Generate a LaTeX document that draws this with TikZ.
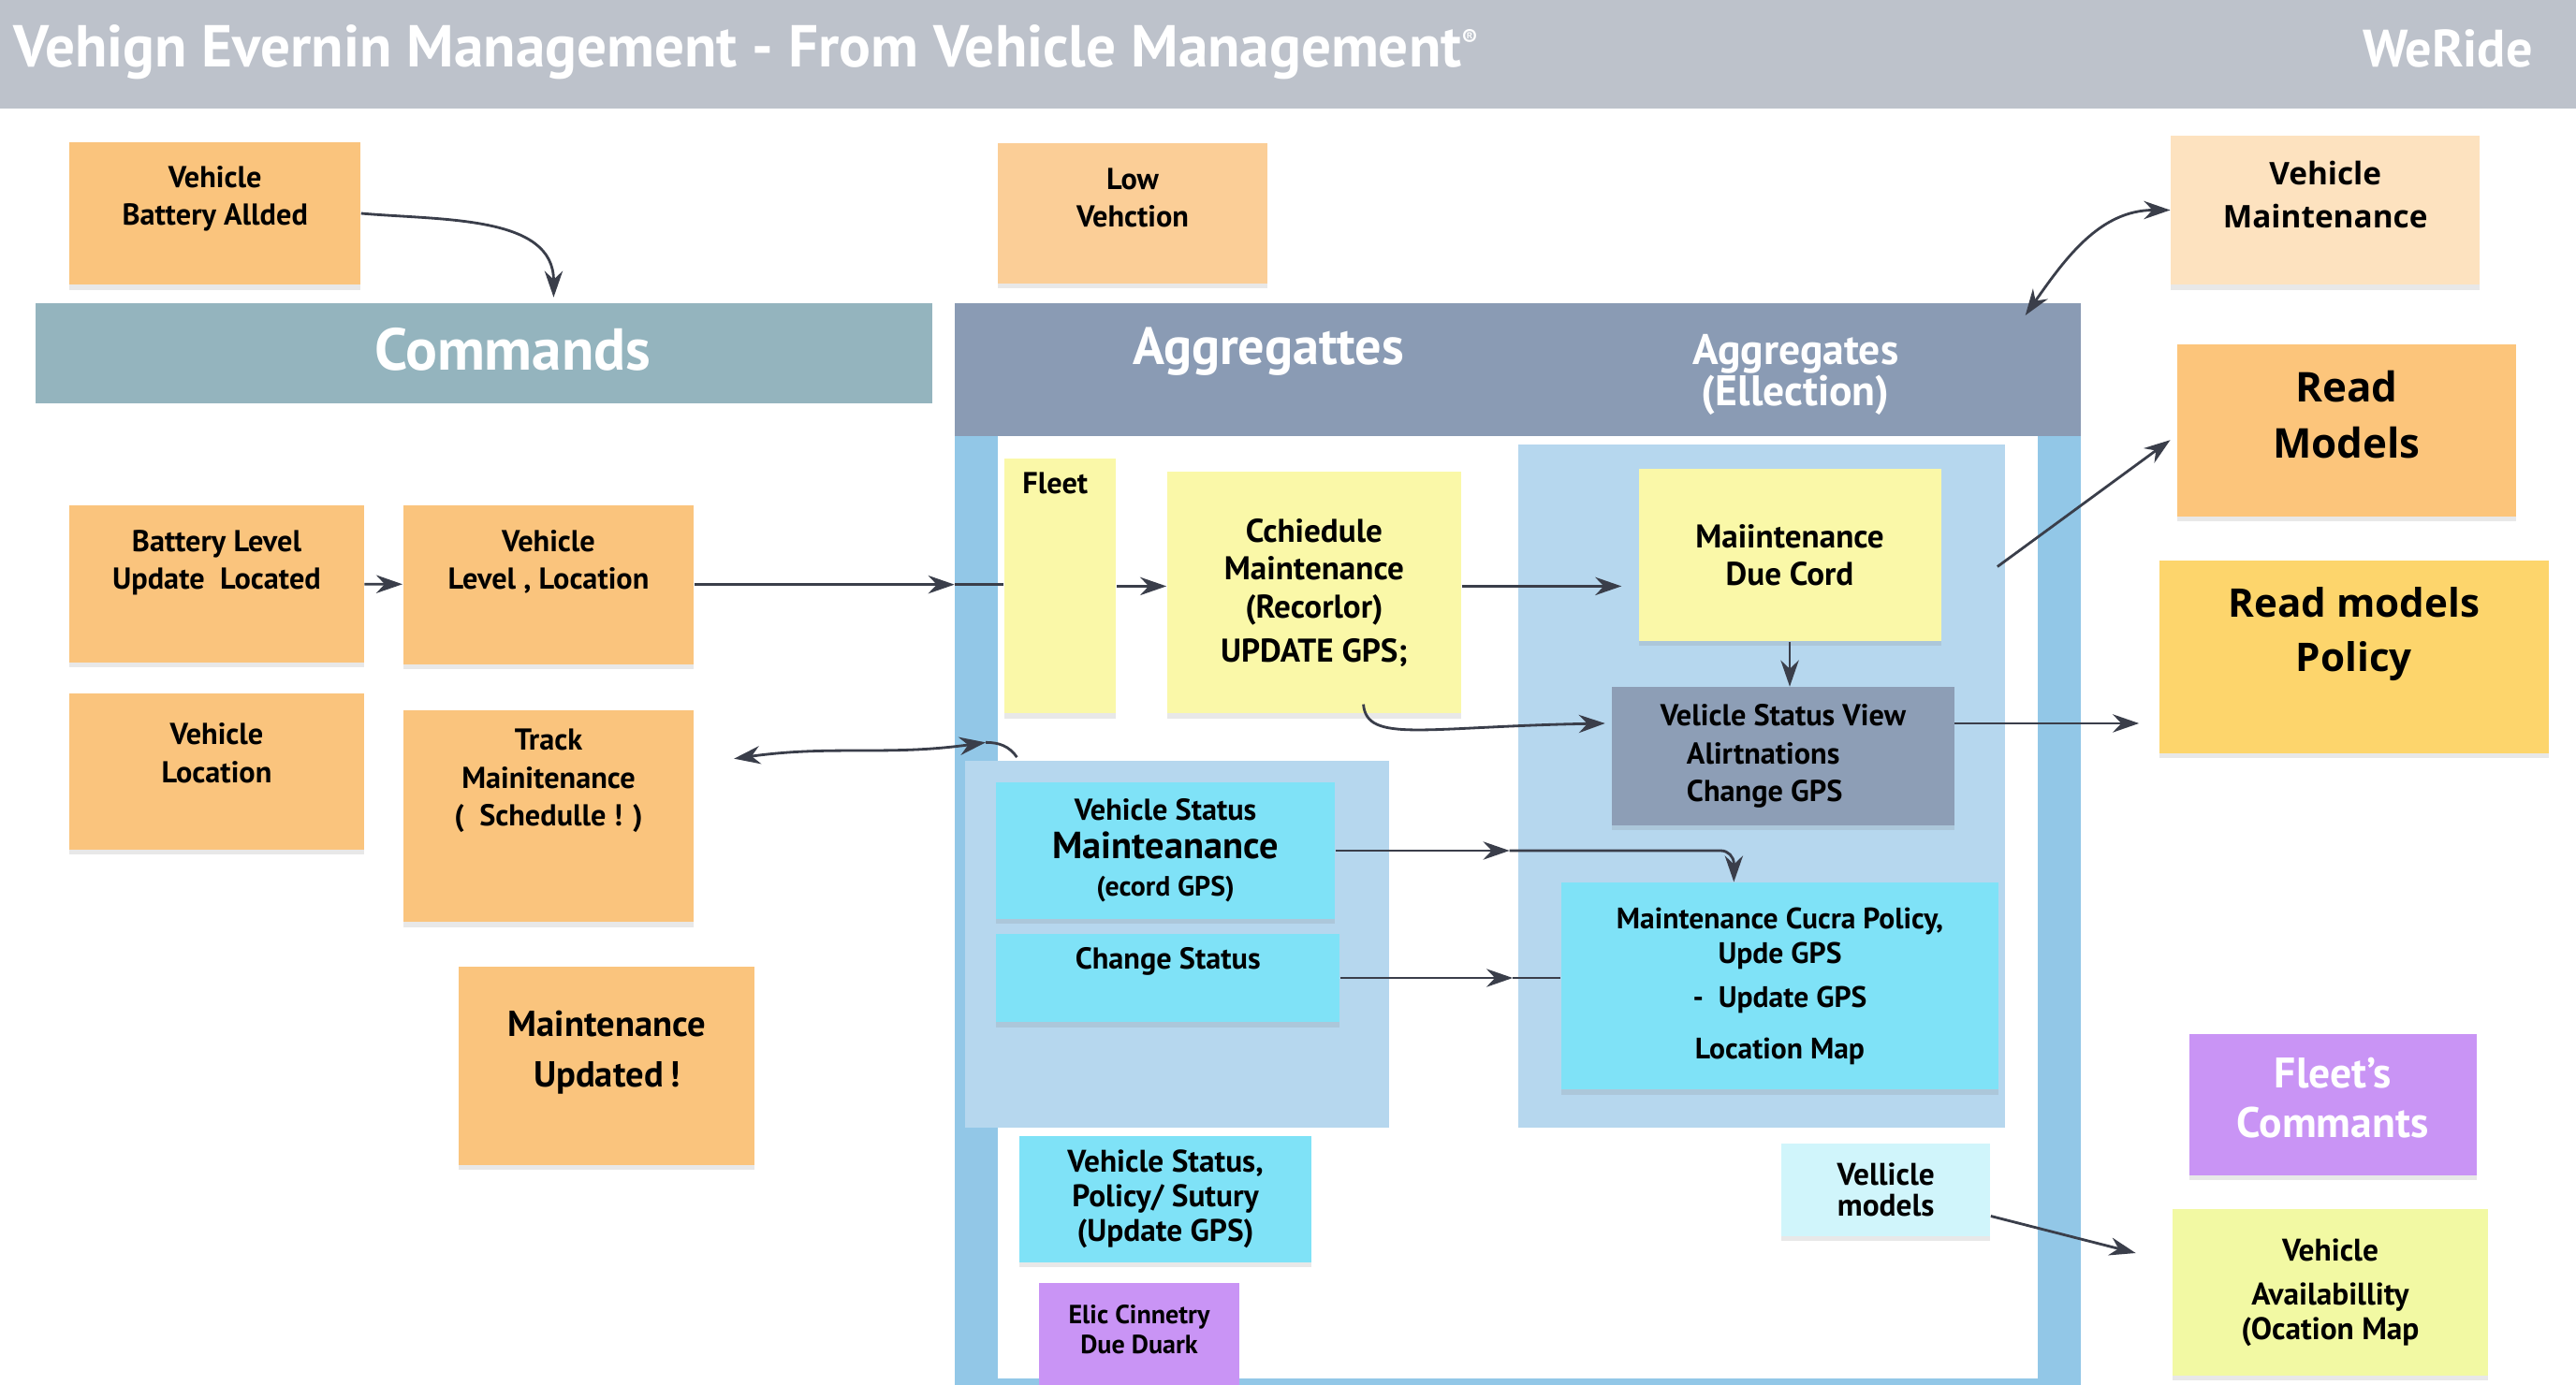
\documentclass[tikz,border=0pt]{standalone}
\usepackage{fontspec}
\setmainfont{PT Sans}
\newfontfamily\widefont{Open Sans}
\usetikzlibrary{arrows.meta,shadows}

\definecolor{headc}{HTML}{BDC2CB}
\definecolor{cmdc}{HTML}{94B4BE}
\definecolor{aggc}{HTML}{8A9BB4}
\definecolor{framec}{HTML}{92C7E7}
\definecolor{panelc}{HTML}{B6D7EE}
\definecolor{orangec}{HTML}{FAC47D}
\definecolor{lowc}{HTML}{FBCE97}
\definecolor{paleorc}{HTML}{FDE2BF}
\definecolor{readmc}{HTML}{FCC57B}
\definecolor{goldc}{HTML}{FDD56C}
\definecolor{yelc}{HTML}{FAF8A8}
\definecolor{greyc}{HTML}{8D9EB6}
\definecolor{cyanc}{HTML}{7FE2F7}
\definecolor{lcyanc}{HTML}{D0F5FB}
\definecolor{purpc}{HTML}{C994F5}
\definecolor{ygc}{HTML}{F2F9A3}
\definecolor{arrowc}{HTML}{3A3E4A}

\begin{document}
\begin{tikzpicture}[x=0.5pt,y=-0.5pt,
  band/.style={anchor=north west, inner sep=0pt},
  note/.style={band, drop shadow={opacity=0.18, shadow xshift=0pt, shadow yshift=-1.5pt}},
  sz/.style 2 args={minimum width=#1*0.5pt, minimum height=#2*0.5pt},
  txt/.style={align=center, inner sep=0pt, font=\bfseries\fontsize{9.2}{11.5}\selectfont},
  bartxt/.style={text=white, inner sep=0pt, font=\bfseries\fontsize{18}{18}\selectfont},
  arr/.style={draw=arrowc, line width=0.8pt, -{Stealth[length=8pt,width=5.5pt]}},
  darr/.style={arr, {Stealth[length=8pt,width=5.5pt]}-{Stealth[length=8pt,width=5.5pt]}},
  wire/.style={draw=arrowc, line width=0.8pt}]

\useasboundingbox (0,0) rectangle (1568,843);
\fill[white] (0,0) rectangle (1568,843);

% Header
\fill[headc] (0,0) rectangle (1568,66);
\node[anchor=base west, inner sep=0pt, text=white, font=\bfseries\fontsize{18}{18}\selectfont] (title) at (8,41) {Vehign Evernin Management - From Vehicle Management\textsuperscript{\fontsize{7}{7}\selectfont ®}};
\node[anchor=base east, inner sep=0pt, text=white, font=\bfseries\fontsize{16}{16}\selectfont] (logo) at (1542,41) {WeRide};

% Bands and frame
\node[band, fill=cmdc, sz={546}{61}] (cmdbar) at (21,184) {};
\node[bartxt] (cmdtxt) at (312,213) {Commands};
\node[band, fill=framec, sz={685}{578}] (aggframe) at (581,265) {};
\node[band, fill=white, sz={633}{574}] (agginner) at (607,265) {};
\node[band, fill=aggc, sz={685}{81}] (aggbar) at (581,184) {};
\node[bartxt, font=\bfseries\fontsize{16}{16}\selectfont] (aggtxt) at (772,214) {Aggregattes};
\node[bartxt, align=center, font=\bfseries\fontsize{13}{12.5}\selectfont] (electxt) at (1093,228) {Aggregates\\(Ellection)};
\node[band, fill=panelc, sz={258}{223}] (lpanel) at (587,463) {};
\node[band, fill=panelc, sz={296}{416}] (rpanel) at (924,270) {};

% Orange notes
\node[note, fill=orangec, sz={177}{87}] (vbat) at (42,86) {};
\node[txt] (vbatt) at ([yshift=4.5pt]vbat.center) {Vehicle\\Battery Allded};
\node[note, fill=lowc, sz={164}{85}] (lowv) at (607,87) {};
\node[txt] (lowvt) at ([yshift=4.75pt]lowv.center) {Low\\Vehction};
\node[note, fill=orangec, sz={179}{96}] (bll) at (42,307) {};
\node[txt] (bllt) at ([yshift=6.5pt]bll.center) {Battery Level\\Update~ Located};
\node[note, fill=orangec, sz={177}{97}] (vll) at (245,307) {};
\node[txt] (vllt) at ([yshift=7pt]vll.center) {Vehicle\\Level , Location};
\node[note, fill=orangec, sz={179}{95}] (vloc) at (42,422) {};
\node[txt] (vloct) at ([yshift=5.75pt]vloc.center) {Vehicle\\Location};
\node[note, fill=orangec, sz={177}{129}] (track) at (245,432) {};
\node[txt] (trackt) at ([yshift=10.75pt]track.center) {Track\\Mainitenance\\(~ Schedulle ! )};
\node[note, fill=orangec, sz={180}{121}] (mupd) at (279,588) {};
\node[txt, font=\bfseries\fontsize{11}{15.5}\selectfont] (mupdt) at ([yshift=4pt]mupd.center) {Maintenance\\Updated\,!};

% Aggregate notes
\node[note, fill=yelc, sz={68}{155}] (fleet) at (611,279) {};
\node[txt, anchor=north west] (fleett) at ([xshift=5.5pt,yshift=-4pt]fleet.north west) {Fleet};
\node[note, txt, fill=yelc, sz={179}{147}, font=\bfseries\fontsize{10}{11.5}\selectfont] (sched) at (710,287) {Cchiedule\\Maintenance\\(Recorlor)\\[2pt]UPDATE GPS;};
\node[note, txt, fill=yelc, sz={184}{105}, font=\bfseries\fontsize{10}{11.5}\selectfont] (duecord) at (997,285) {Maiintenance\\Due Cord};
\node[note, txt, fill=greyc, sz={208}{84}, align=left] (statusv) at (981,418) {Velicle Status View\\\hspace*{8pt}Alirtnations\\\hspace*{8pt}Change GPS};
\node[note, txt, fill=cyanc, sz={206}{83}] (vsm) at (606,476) {Vehicle Status\\{\fontsize{11.5}{10}\selectfont Mainteanance}\\{\fontsize{8.5}{10}\selectfont (ecord GPS)}};
\node[note, fill=cyanc, sz={209}{54}] (chst) at (606,568) {};
\node[txt] (chstt) at ([yshift=5pt]chst.center) {Change Status};
\node[note, txt, fill=cyanc, sz={266}{126}, font=\bfseries\fontsize{9}{10.5}\selectfont] (cucra) at (950,537) {Maintenance Cucra Policy,\\Upde GPS\\[3pt]-\enspace Update GPS\\[5pt]Location Map};
\node[note, txt, fill=cyanc, sz={178}{77}, font=\bfseries\fontsize{9.5}{10.5}\selectfont] (vsp) at (620,691) {Vehicle Status,\\Policy/ Sutury\\(Update GPS)};
\node[note, txt, fill=lcyanc, sz={127}{56}, font=\bfseries\fontsize{9.5}{9.5}\selectfont] (vmod) at (1084,696) {Vellicle\\models};
\node[note, fill=purpc, sz={122}{62}] (elic) at (632,781) {};
\node[txt, font=\bfseries\fontsize{8}{9}\selectfont] (elict) at ([yshift=1.5pt]elic.center) {Elic Cinnetry\\Due Duark};

% Read side
\node[note, fill=paleorc, sz={188}{91}] (vmaint) at (1321,82) {};
\node[txt, font=\widefont\bfseries\fontsize{9.5}{13}\selectfont] (vmaintt) at ([yshift=4.75pt]vmaint.center) {Vehicle\\Maintenance};
\node[note, fill=readmc, sz={206}{105}] (readm) at (1325,209) {};
\node[txt, font=\widefont\bfseries\fontsize{12.5}{17}\selectfont] (readmt) at ([yshift=4.75pt]readm.center) {Read\\Models};
\node[note, fill=goldc, sz={237}{117}] (readp) at (1314,341) {};
\node[txt, font=\widefont\bfseries\fontsize{12}{16.5}\selectfont] (readpt) at ([yshift=7pt]readp.center) {Read models\\Policy};
\node[note, fill=purpc, sz={175}{86}] (fleetc) at (1332,629) {};
\node[txt, text=white, font=\bfseries\fontsize{13}{15}\selectfont] (fleetct) at ([yshift=2pt]fleetc.center) {Fleet's\\Commants};
\node[note, txt, fill=ygc, sz={192}{101}, font=\bfseries\fontsize{9.5}{10.5}\selectfont] (vavail) at (1322,736) {Vehicle\\[3pt]Availabillity\\(Ocation Map};

% Connectors
\coordinate (cmdin) at (337,181);
\draw[arr] (vbat.east) to[out=-5,in=90] (cmdin);
\draw[arr] (bll) -- (vll);
\draw[arr] (vll.east) -- (vll.east -| aggframe.west);
\draw[wire] (vll.east -| aggframe.west) -- (vll.east -| fleet.west);
\draw[arr] (fleet.east) -- (fleet.east -| sched.west);
\draw[arr, shorten >=5pt] (sched.east |- fleet.east) -- (fleet.east -| duecord.west);
\draw[arr] (duecord.south) -- (duecord.south |- statusv.north);
\draw[arr] ([xshift=15pt,yshift=3pt]sched.south) .. controls +(2,24) and +(-110,2) .. ([yshift=10pt,xshift=-2pt]statusv.west);
\draw[arr, shorten >=6pt] ([yshift=10pt]statusv.east) -- ([yshift=10pt]statusv.east -| readp.west);
\draw[arr] ([xshift=-2.5pt,yshift=-37.5pt]rpanel.north east) -- ([xshift=-2pt,yshift=-3pt]readm.west);
\draw[darr] ([xshift=-17pt,yshift=-4pt]aggbar.north east) to[out=55,in=180] (vmaint.west);
\draw[darr] ([xshift=12pt,yshift=17.5pt]track.east) to[out=8,in=188] ([xshift=6.5pt,yshift=5.5pt]lpanel.north west);
\draw[wire] ([xshift=6.5pt,yshift=5.5pt]lpanel.north west) to[out=0,in=125] ([xshift=16pt,yshift=1pt]lpanel.north west);
\draw[arr] (vsm.east) -- ++(106,0) coordinate (vsmmid);
\draw[arr, rounded corners=4pt] (vsmmid) -| ([xshift=-14pt]cucra.north);
\draw[arr] (chst.east) -- ++(105,0) coordinate (chmid);
\draw[wire] (chmid) -- (chmid -| cucra.west);
\draw[arr] ([yshift=-8pt]vmod.east) -- ([xshift=-11pt,yshift=12pt]vavail.west);
\end{tikzpicture}
\end{document}
